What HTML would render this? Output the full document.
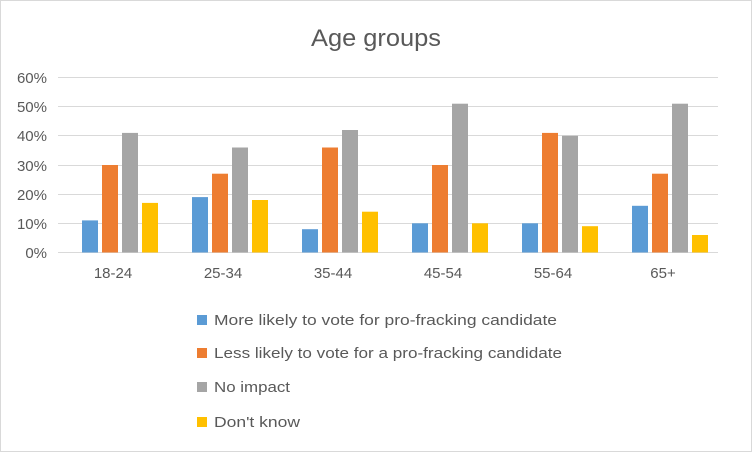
<!DOCTYPE html>
<html><head><style>body{margin:0;background:#fff}</style></head><body>
<svg width="752" height="452" xmlns="http://www.w3.org/2000/svg" font-family="Liberation Sans, sans-serif">
<rect x="0.5" y="0.5" width="751" height="451" fill="#fff" stroke="#D9D9D9"/>
<text x="311" y="46" font-size="24" fill="#595959" textLength="130" lengthAdjust="spacingAndGlyphs">Age groups</text>
<g stroke="#D9D9D9" stroke-width="1">
<line x1="58" x2="718" y1="77.5" y2="77.5"/><line x1="58" x2="718" y1="106.5" y2="106.5"/>
<line x1="58" x2="718" y1="135.5" y2="135.5"/><line x1="58" x2="718" y1="165.5" y2="165.5"/>
<line x1="58" x2="718" y1="194.5" y2="194.5"/><line x1="58" x2="718" y1="223.5" y2="223.5"/>
<line x1="58" x2="718" y1="252.5" y2="252.5"/>
</g>
<g font-size="15" fill="#595959" text-anchor="end">
<text x="47" y="83">60%</text><text x="47" y="112">50%</text><text x="47" y="141">40%</text>
<text x="47" y="171">30%</text><text x="47" y="200">20%</text><text x="47" y="229">10%</text><text x="47" y="258">0%</text>
</g>
<g>
<rect x="82" y="220.4" width="16" height="32.1" fill="#5B9BD5"/>
<rect x="102" y="165" width="16" height="87.5" fill="#ED7D31"/>
<rect x="122" y="132.9" width="16" height="119.6" fill="#A5A5A5"/>
<rect x="142" y="202.9" width="16" height="49.6" fill="#FFC000"/>

<rect x="192" y="197.1" width="16" height="55.4" fill="#5B9BD5"/>
<rect x="212" y="173.7" width="16" height="78.8" fill="#ED7D31"/>
<rect x="232" y="147.5" width="16" height="105" fill="#A5A5A5"/>
<rect x="252" y="200" width="16" height="52.5" fill="#FFC000"/>

<rect x="302" y="229.2" width="16" height="23.3" fill="#5B9BD5"/>
<rect x="322" y="147.5" width="16" height="105" fill="#ED7D31"/>
<rect x="342" y="130" width="16" height="122.5" fill="#A5A5A5"/>
<rect x="362" y="211.7" width="16" height="40.8" fill="#FFC000"/>

<rect x="412" y="223.3" width="16" height="29.2" fill="#5B9BD5"/>
<rect x="432" y="165" width="16" height="87.5" fill="#ED7D31"/>
<rect x="452" y="103.7" width="16" height="148.8" fill="#A5A5A5"/>
<rect x="472" y="223.3" width="16" height="29.2" fill="#FFC000"/>

<rect x="522" y="223.3" width="16" height="29.2" fill="#5B9BD5"/>
<rect x="542" y="132.9" width="16" height="119.6" fill="#ED7D31"/>
<rect x="562" y="135.8" width="16" height="116.7" fill="#A5A5A5"/>
<rect x="582" y="226.2" width="16" height="26.3" fill="#FFC000"/>

<rect x="632" y="205.8" width="16" height="46.7" fill="#5B9BD5"/>
<rect x="652" y="173.7" width="16" height="78.8" fill="#ED7D31"/>
<rect x="672" y="103.7" width="16" height="148.8" fill="#A5A5A5"/>
<rect x="692" y="235" width="16" height="17.5" fill="#FFC000"/>
</g>
<g font-size="15" fill="#595959" text-anchor="middle">
<text x="113" y="278">18-24</text><text x="223" y="278">25-34</text><text x="333" y="278">35-44</text>
<text x="443" y="278">45-54</text><text x="553" y="278">55-64</text><text x="663" y="278">65+</text>
</g>
<g font-size="15" fill="#595959" lengthAdjust="spacingAndGlyphs">
<rect x="197" y="315" width="10" height="10" fill="#5B9BD5"/><text x="214" y="325" textLength="343" lengthAdjust="spacingAndGlyphs">More likely to vote for pro-fracking candidate</text>
<rect x="197" y="348" width="10" height="10" fill="#ED7D31"/><text x="214" y="358" textLength="348" lengthAdjust="spacingAndGlyphs">Less likely to vote for a pro-fracking candidate</text>
<rect x="197" y="382" width="10" height="10" fill="#A5A5A5"/><text x="214" y="392" textLength="76" lengthAdjust="spacingAndGlyphs">No impact</text>
<rect x="197" y="417" width="10" height="10" fill="#FFC000"/><text x="214" y="427" textLength="86" lengthAdjust="spacingAndGlyphs">Don't know</text>
</g>
</svg>
</body></html>
